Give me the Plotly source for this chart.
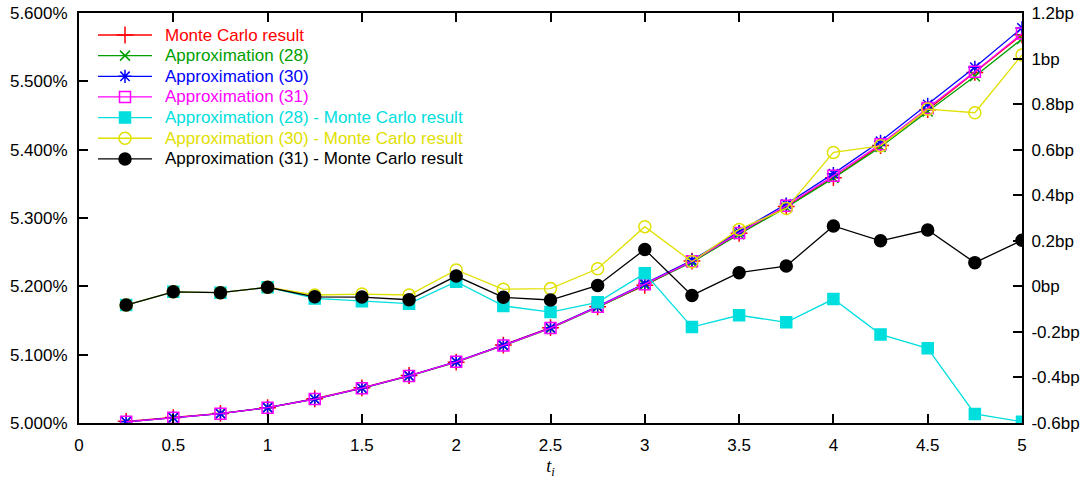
import plotly.graph_objects as go

t = [0.25, 0.5, 0.75, 1.0, 1.25, 1.5, 1.75, 2.0, 2.25, 2.5,
     2.75, 3.0, 3.25, 3.5, 3.75, 4.0, 4.25, 4.5, 4.75, 5.0]

# rates in percent (left axis)
monte_carlo = [5.0025, 5.0080, 5.0140, 5.0225, 5.0355, 5.0515, 5.0695, 5.0890, 5.1140, 5.1395,
               5.1700, 5.2015, 5.2370, 5.2775, 5.3170, 5.3590, 5.4060, 5.4585, 5.5130, 5.5680]
approx_28 = [5.0017, 5.0078, 5.0137, 5.0225, 5.0350, 5.0508, 5.0687, 5.0892, 5.1131, 5.1384,
             5.1693, 5.2021, 5.2352, 5.2762, 5.3154, 5.3584, 5.4039, 5.4558, 5.5074, 5.5620]
approx_30 = [5.0017, 5.0078, 5.0137, 5.0225, 5.0351, 5.0512, 5.0691, 5.0897, 5.1139, 5.1394,
             5.1708, 5.2041, 5.2381, 5.2800, 5.3204, 5.3649, 5.4122, 5.4663, 5.5206, 5.5782]
approx_31 = [5.0017, 5.0078, 5.0137, 5.0225, 5.0350, 5.0510, 5.0689, 5.0895, 5.1135, 5.1389,
             5.1700, 5.2031, 5.2366, 5.2781, 5.3179, 5.3617, 5.4080, 5.4610, 5.5140, 5.5700]

# differences in basis points (right axis)
diff_28 = [-0.082, -0.024, -0.028, -0.004, -0.053, -0.065, -0.076, 0.020, -0.086, -0.113,
           -0.070, 0.057, -0.179, -0.127, -0.158, -0.056, -0.211, -0.272, -0.560, -0.595]
diff_30 = [-0.082, -0.024, -0.028, -0.004, -0.038, -0.034, -0.038, 0.072, -0.013, -0.010,
           0.077, 0.262, 0.108, 0.250, 0.342, 0.588, 0.617, 0.778, 0.762, 1.016]
diff_31 = [-0.082, -0.024, -0.028, -0.004, -0.046, -0.047, -0.059, 0.045, -0.048, -0.060,
           0.004, 0.162, -0.040, 0.060, 0.089, 0.265, 0.200, 0.247, 0.104, 0.202]

x_ticks = [0, 0.5, 1, 1.5, 2, 2.5, 3, 3.5, 4, 4.5, 5]
y_ticks = [5.0, 5.1, 5.2, 5.3, 5.4, 5.5, 5.6]
y_ticktext = ["5.000%", "5.100%", "5.200%", "5.300%", "5.400%", "5.500%", "5.600%"]
y2_ticks = [-0.6, -0.4, -0.2, 0, 0.2, 0.4, 0.6, 0.8, 1.0, 1.2]
y2_ticktext = ["-0.6bp", "-0.4bp", "-0.2bp", "0bp", "0.2bp", "0.4bp", "0.6bp", "0.8bp", "1bp", "1.2bp"]

RED, GREEN, BLUE, MAGENTA = "#ff0000", "#00a000", "#0000ff", "#ff00ff"
CYAN, YELLOW, BLACK = "#00dede", "#e0e000", "#000000"

series = [
    ("Monte Carlo result", monte_carlo, "y", RED, "cross-thin-open", 12),
    ("Approximation (28)", approx_28, "y", GREEN, "x-thin-open", 10),
    ("Approximation (30)", approx_30, "y", BLUE, "asterisk-open", 11),
    ("Approximation (31)", approx_31, "y", MAGENTA, "square-open", 11),
    ("Approximation (28) - Monte Carlo result", diff_28, "y2", CYAN, "square", 11),
    ("Approximation (30) - Monte Carlo result", diff_30, "y2", YELLOW, "circle-open", 12),
    ("Approximation (31) - Monte Carlo result", diff_31, "y2", BLACK, "circle", 12),
]

FONT = "Liberation Sans, Arial, Helvetica, sans-serif"
PLOT_W, PLOT_H = 943, 410   # plot-area size in px (used for the key's helper axes)

fig = go.Figure()
for name, vals, ax, col, sym, sz in series:
    fig.add_trace(go.Scatter(
        x=t, y=vals, yaxis=ax, mode="lines+markers", name=name, showlegend=False,
        line=dict(color=col, width=1.3),
        marker=dict(symbol=sym, size=sz, color=col, line=dict(color=col, width=1.5)),
    ))

# key (legend) drawn in a hidden pixel-unit overlay so it matches the gnuplot layout
annotations = []
for i, (name, vals, ax, col, sym, sz) in enumerate(series):
    yc = 22 + 20.65 * i
    fig.add_trace(go.Scatter(x=[19, 73], y=[yc, yc], xaxis="x2", yaxis="y3", mode="lines",
                             line=dict(color=col, width=1.3), showlegend=False, hoverinfo="skip"))
    fig.add_trace(go.Scatter(x=[46], y=[yc], xaxis="x2", yaxis="y3", mode="markers",
                             marker=dict(symbol=sym, size=sz, color=col, line=dict(color=col, width=1.5)),
                             showlegend=False, hoverinfo="skip"))
    annotations.append(dict(x=84, y=yc, xref="x2", yref="y3", text=name, showarrow=False,
                            xanchor="left", yanchor="middle",
                            font=dict(family=FONT, size=17, color=col)))

axis_common = dict(showgrid=False, zeroline=False, showline=True, linecolor="black",
                   linewidth=2, ticks="inside", ticklen=9, tickwidth=2, tickcolor="black",
                   automargin=False,
                   tickfont=dict(family=FONT, size=17, color="black"))

fig.update_layout(
    width=1088, height=479, autosize=False,
    margin=dict(l=79, r=66, t=13, b=56),
    plot_bgcolor="white", paper_bgcolor="white",
    font=dict(family=FONT, size=17, color="black"),
    xaxis=dict(range=[0, 5], tickvals=x_ticks, mirror="ticks", ticklabelstandoff=6,
               title=dict(text="<i>t<sub>i</sub></i>", standoff=8,
                          font=dict(family="Liberation Serif, Times New Roman, serif", size=18)),
               **axis_common),
    yaxis=dict(range=[5.0, 5.6], tickvals=y_ticks, ticktext=y_ticktext,
               ticklabelstandoff=6, **axis_common),
    yaxis2=dict(range=[-0.6, 1.2], tickvals=y2_ticks, ticktext=y2_ticktext,
                overlaying="y", side="right", ticklabelstandoff=4, **axis_common),
    xaxis2=dict(range=[0, PLOT_W], overlaying="x", visible=False, fixedrange=True),
    yaxis3=dict(range=[PLOT_H, 0], overlaying="y", visible=False, fixedrange=True),
    annotations=annotations,
    showlegend=False,
)

fig.write_html("out.html", config={"displayModeBar": False},
               post_script="document.body.style.margin='0';")
